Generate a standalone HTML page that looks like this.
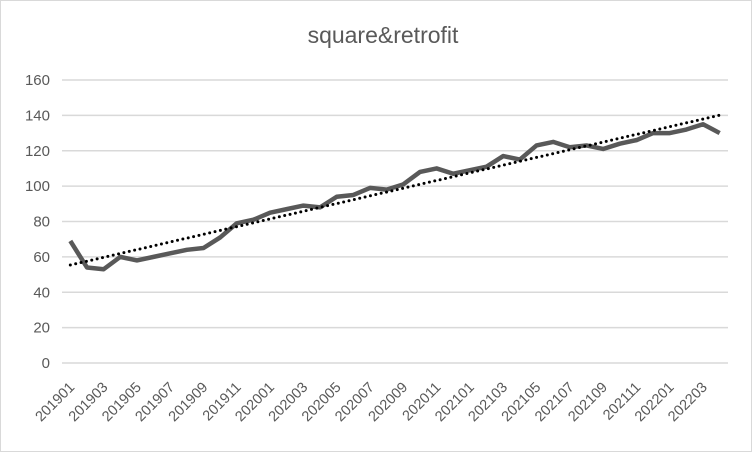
<!DOCTYPE html>
<html><head><meta charset="utf-8"><style>
body{margin:0;background:#fff;font-family:"Liberation Sans",sans-serif}
svg text{font-family:"Liberation Sans",sans-serif;fill:#595959}
</style></head><body>
<svg id="c" width="752" height="452">
<rect x="0.5" y="0.5" width="751" height="451" fill="#fff" stroke="#d9d9d9"/>
<text x="383" y="43" font-size="23" text-anchor="middle">square&amp;retrofit</text>
<g id="grid"></g><g id="lbl"></g><g id="ser"></g>
</svg>
<script>
const categories=["201901","201902","201903","201904","201905","201906","201907","201908","201909","201910","201911","201912","202001","202002","202003","202004","202005","202006","202007","202008","202009","202010","202011","202012","202101","202102","202103","202104","202105","202106","202107","202108","202109","202110","202111","202112","202201","202202","202203","202204"];
const values=[69,54,53,60,58,60,62,64,65,71,79,81,85,87,89,88,94,95,99,98,101,108,110,107,109,111,117,115,123,125,122,123,121,124,126,130,130,132,135,130];
const yTicks=[0,20,40,60,80,100,120,140,160];
const NS="http://www.w3.org/2000/svg";
const L=62,R=728,T=80,B=363,yMax=160;
const step=(R-L)/categories.length;
const x=i=>L+step*(i+0.5);
const y=v=>B-(v/yMax)*(B-T);
function mk(t,a,p){const e=document.createElementNS(NS,t);for(const k in a)e.setAttribute(k,a[k]);document.getElementById(p).appendChild(e);return e;}
yTicks.forEach(v=>{
 const g=mk('line',{x1:L,x2:R,y1:y(v),y2:y(v),stroke:'#d9d9d9','stroke-width':1.5},'grid');
 
 
 const t=mk('text',{x:50,y:y(v)+5,'font-size':15,'text-anchor':'end'},'lbl');
 t.textContent=v;
 
 
});
categories.forEach((c,i)=>{
 if(i%2)return;
 const t=mk('text',{x:x(i)+5,y:B+25,'font-size':14.5,'text-anchor':'end',transform:`rotate(-45 ${x(i)+5} ${B+25})`},'lbl');
 t.textContent=c;
 
 
});
const n=values.length;let sx=0,sy=0,sxy=0,sxx=0;
values.forEach((v,i)=>{sx+=i;sy+=v;sxy+=i*v;sxx+=i*i;});
const m=(n*sxy-sx*sy)/(n*sxx-sx*sx),b0=(sy-m*sx)/n;
const p=mk('polyline',{points:values.map((v,i)=>x(i)+','+y(v)).join(' '),fill:'none',stroke:'#595959','stroke-width':4.5,'stroke-linejoin':'round'},'ser');


const tl=mk('line',{x1:x(0),y1:y(b0),x2:x(n-1),y2:y(b0+m*(n-1)),stroke:'#000','stroke-width':3,'stroke-dasharray':'0 5.5','stroke-linecap':'round'},'ser');


</script>
</body></html>
